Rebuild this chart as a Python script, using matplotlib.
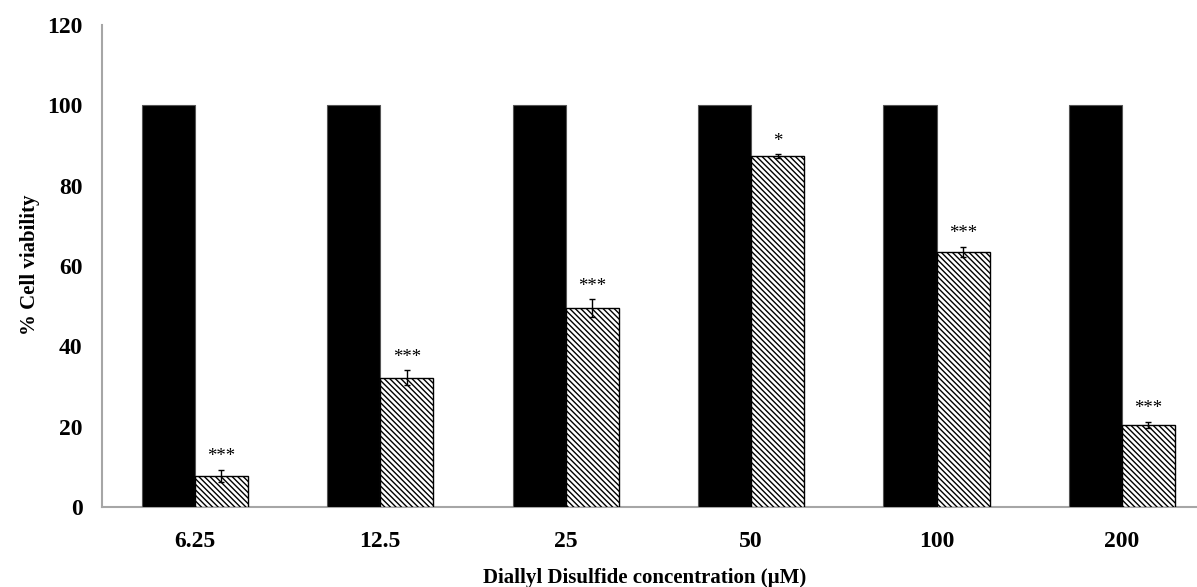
import matplotlib
matplotlib.use("Agg")
import matplotlib.pyplot as plt
import numpy as np

categories = ["6.25", "12.5", "25", "50", "100", "200"]
control = [100, 100, 100, 100, 100, 100]
treated = [7.8, 32.2, 49.5, 87.3, 63.5, 20.4]
treated_err = [1.5, 1.8, 2.2, 0.5, 1.3, 0.7]
stars = ["***", "***", "***", "*", "***", "***"]
yticks = [0, 20, 40, 60, 80, 100, 120]

plt.rcParams['font.family'] = ['Liberation Serif', 'DejaVu Serif']
plt.rcParams['font.weight'] = 'bold'
plt.rcParams['hatch.linewidth'] = 1.0

fig = plt.figure(figsize=(11.97, 5.87), dpi=100)
ax = fig.add_axes([102/1197, 1-507/587, 1112.7/1197, 482/587])

x = np.arange(len(categories))
w = 0.286
ax.bar(x - w/2, control, w, color='black', edgecolor='#555555', linewidth=0.8, zorder=2)
ax.bar(x + w/2, treated, w, color='white', edgecolor='black', hatch='\\\\\\\\\\\\',
       linewidth=1.0, zorder=2)
ax.errorbar(x + w/2, treated, yerr=treated_err, fmt='none', ecolor='black',
            elinewidth=1.0, capsize=2.5, capthick=1.0, zorder=3)
for xi, v, e, s in zip(x, treated, treated_err, stars):
    ax.text(xi + w/2, v + e + 1.2, s, ha='center', va='bottom', fontsize=13.5,
            fontweight='normal')

ax.set_xlim(-0.5, len(categories) - 0.5)
ax.set_ylim(0, 120)
ax.set_yticks(yticks)
ax.set_xticks(x)
ax.set_xticklabels(categories)
ax.tick_params(axis='both', length=0, labelsize=17)
ax.tick_params(axis='y', pad=14)
ax.tick_params(axis='x', pad=17)
for lab in ax.get_xticklabels() + ax.get_yticklabels():
    lab.set_fontweight('bold')

for sp in ['top', 'right']:
    ax.spines[sp].set_visible(False)
for sp in ['left', 'bottom']:
    ax.spines[sp].set_color('#a6a6a6')
    ax.spines[sp].set_linewidth(1.5)
    ax.spines[sp].set_zorder(1)

fig.text(30/1197, 1-265/587, "% Cell viability", rotation=90, ha='center', va='center',
         fontsize=15, fontweight='bold')
fig.text(645/1197, 1-578/587, "Diallyl Disulfide concentration (\u00b5M)", ha='center',
         va='center', fontsize=15, fontweight='bold')

fig.savefig("out.png", dpi=100)
